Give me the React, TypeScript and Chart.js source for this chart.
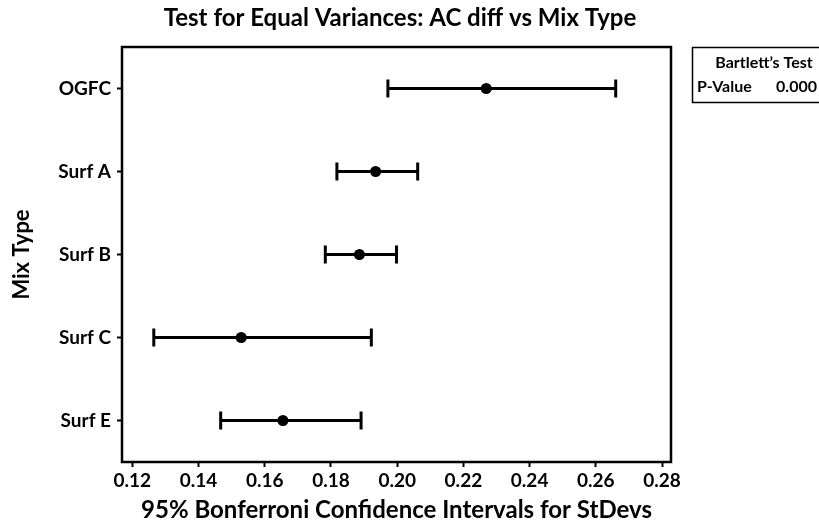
import React, { useEffect, useRef } from "react";
import { Chart, registerables } from "chart.js";

Chart.register(...registerables);

// ---- data ----
const CATEGORIES = ["OGFC", "Surf A", "Surf B", "Surf C", "Surf E"];
const LOWER = [0.1972, 0.1818, 0.1783, 0.1265, 0.1467];
const CENTER = [0.2269, 0.1935, 0.1886, 0.1529, 0.1655];
const UPPER = [0.266, 0.2062, 0.1998, 0.1922, 0.1891];
const X_TICKS = [0.12, 0.14, 0.16, 0.18, 0.2, 0.22, 0.24, 0.26, 0.28];
const X_MIN = 0.1169;
const X_MAX = 0.2827;

const TITLE = "Test for Equal Variances: AC diff vs Mix Type";
const X_TITLE = "95% Bonferroni Confidence Intervals for StDevs";
const Y_TITLE = "Mix Type";
const TEST_NAME = "Bartlett\u2019s Test";
const P_LABEL = "P-Value";
const P_VALUE = "0.000";

const FONT = '"Lato", "DejaVu Sans", sans-serif';

const decorPlugin = {
  id: "decor",
  beforeDraw(chart: any) {
    const { ctx, width, height } = chart;
    ctx.save();
    ctx.fillStyle = "#fff";
    ctx.fillRect(0, 0, width, height);
    ctx.restore();
  },
  afterDraw(chart: any) {
    const { ctx, chartArea } = chart;
    ctx.save();
    // plot frame
    ctx.strokeStyle = "#000";
    ctx.lineWidth = 2.5;
    ctx.strokeRect(
      chartArea.left,
      chartArea.top,
      chartArea.right - chartArea.left,
      chartArea.bottom - chartArea.top
    );
    // title
    ctx.fillStyle = "#000";
    ctx.font = `bold 24px ${FONT}`;
    ctx.textAlign = "center";
    ctx.textBaseline = "middle";
    ctx.fillText(TITLE, 400, 18);
    // test box
    ctx.lineWidth = 1.5;
    ctx.strokeRect(692.5, 47.5, 150, 55);
    ctx.font = `bold 16px ${FONT}`;
    ctx.textAlign = "center";
    ctx.fillText(TEST_NAME, 764, 63);
    ctx.textAlign = "left";
    ctx.fillText(P_LABEL, 697, 87);
    ctx.textAlign = "right";
    ctx.fillText(P_VALUE, 817, 87);
    ctx.restore();
  },
};

export default function App() {
  const canvasRef = useRef<HTMLCanvasElement | null>(null);

  useEffect(() => {
    const canvas = canvasRef.current;
    if (!canvas) return;

    const intervalSets = CATEGORIES.map((cat, i) => ({
      type: "scatter" as const,
      label: cat,
      data: [
        { x: LOWER[i], y: cat },
        { x: UPPER[i], y: cat },
      ],
      showLine: true,
      borderColor: "#000",
      borderWidth: 3,
      pointStyle: "line" as const,
      rotation: 90,
      pointRadius: 9,
      pointBorderWidth: 3,
      pointBorderColor: "#000",
      pointBackgroundColor: "#000",
      order: 1,
    }));

    const chart = new Chart(canvas, {
      type: "scatter",
      data: {
        labels: CATEGORIES,
        datasets: [
          {
            type: "scatter",
            label: "StDev",
            data: CATEGORIES.map((cat, i) => ({ x: CENTER[i], y: cat })),
            pointStyle: "circle",
            pointRadius: 5.5,
            pointBackgroundColor: "#000",
            pointBorderColor: "#000",
            pointBorderWidth: 0,
            order: 0,
          },
          ...intervalSets,
        ] as any,
      },
      options: {
        responsive: false,
        animation: false,
        layout: { padding: { top: 47, right: 148, left: 0, bottom: 0 } },
        plugins: {
          legend: { display: false },
          tooltip: { enabled: false },
          title: { display: false },
        },
        scales: {
          x: {
            type: "linear",
            min: X_MIN,
            max: X_MAX,
            afterBuildTicks: (scale: any) => {
              scale.ticks = X_TICKS.map((v) => ({ value: v }));
            },
            afterFit: (scale: any) => {
              scale.height = 65;
            },
            grid: {
              display: true,
              drawOnChartArea: false,
              drawTicks: true,
              tickLength: 5,
              tickColor: "#000",
              tickWidth: 2,
            },
            border: { display: false },
            ticks: {
              color: "#000",
              font: { family: FONT, size: 19, weight: "bold" },
              padding: 2,
              autoSkip: false,
              maxRotation: 0,
              callback: (v: any) => Number(v).toFixed(2),
            },
            title: {
              display: true,
              text: X_TITLE,
              color: "#000",
              font: { family: FONT, size: 24, weight: "bold" },
              padding: { top: 0, bottom: 2 },
            },
          },
          y: {
            type: "category",
            labels: CATEGORIES,
            offset: true,
            afterFit: (scale: any) => {
              scale.width = 122;
            },
            grid: {
              display: true,
              offset: false,
              drawOnChartArea: false,
              drawTicks: true,
              tickLength: 5,
              tickColor: "#000",
              tickWidth: 2,
            },
            border: { display: false },
            ticks: {
              color: "#000",
              font: { family: FONT, size: 19, weight: "bold" },
              padding: 6,
            },
            title: {
              display: true,
              text: Y_TITLE,
              color: "#000",
              font: { family: FONT, size: 22, weight: "bold" },
              padding: { top: 9, bottom: 0 },
            },
          },
        },
      } as any,
      plugins: [decorPlugin],
    });

    return () => chart.destroy();
  }, []);

  return (
    <div style={{ position: "absolute", left: 0, top: 0, width: 819, height: 527, background: "#fff" }}>
      <canvas ref={canvasRef} width={819} height={527} style={{ display: "block", width: 819, height: 527 }} />
    </div>
  );
}
